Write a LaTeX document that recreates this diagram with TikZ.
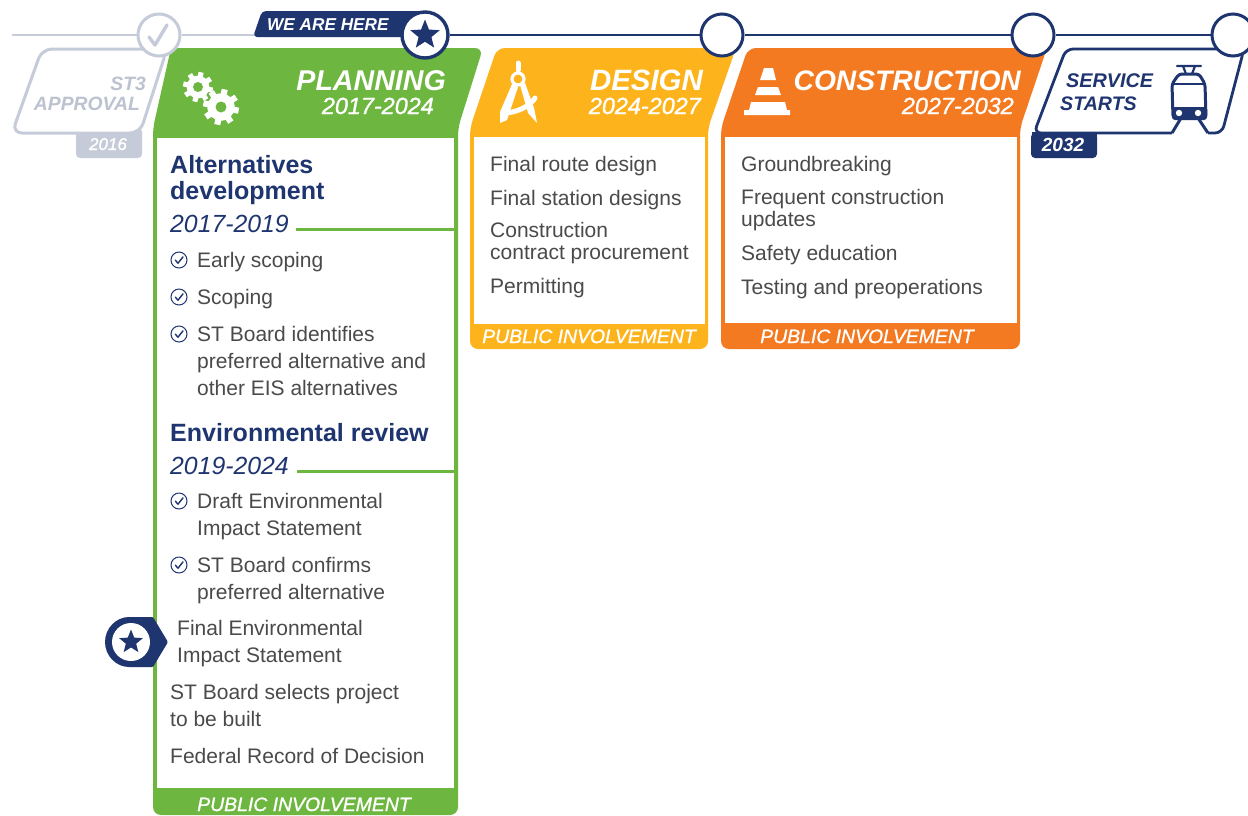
\documentclass[tikz,border=0pt]{standalone}
\usepackage{fontspec}
\setmainfont{Liberation Sans}
\newfontface\medit{Liberation Sans Italic}[FakeBold=1.2]
\usetikzlibrary{shapes.geometric}
\definecolor{navy}{HTML}{1F3570}
\definecolor{pale}{HTML}{C6CBD9}
\definecolor{palet}{HTML}{BDC2D0}
\definecolor{grn}{HTML}{6DB63F}
\definecolor{yel}{HTML}{FDB31B}
\definecolor{org}{HTML}{F47A22}
\definecolor{bodyc}{HTML}{4A4A4C}
\newcommand{\fs}[2]{\fontsize{#1}{#2}\selectfont}
\tikzset{
  tx/.style={anchor=north west,inner sep=0pt,align=left,execute at begin node={\rule{0pt}{16pt}}},
  body/.style={tx,text=bodyc,font=\fs{21}{27}},
  bodytight/.style={tx,text=bodyc,font=\fs{21}{22}},
  head/.style={tx,text=navy,font=\fs{25}{26}\bfseries},
  yrs/.style={tx,text=navy,font=\fs{24.8}{26}\itshape},
  ttl/.style={anchor=base east,inner sep=0pt,text=white,font=\fs{28.6}{30}\bfseries\itshape},
  sub/.style={anchor=base east,inner sep=0pt,text=white,font=\fs{23.4}{24}\medit},
  foot/.style={anchor=base,inner sep=0pt,text=white,font=\fs{19.4}{20}\medit},
  stn/.style={circle,draw=navy,fill=white,line width=3pt,minimum size=42pt,inner sep=0pt},
  gstn/.style={circle,draw=pale,fill=white,line width=3pt,minimum size=42pt,inner sep=0pt},
  st/.style={star,star points=5,star point ratio=2.3,fill=navy,inner sep=0pt},
  cku/.style={circle,draw=navy,fill=white,line width=1pt,minimum size=16pt,inner sep=0pt},
  pn/.style={line width=1.4pt,navy,line cap=round,line join=round},
  rule/.style={grn,line width=3pt},
}
\newcommand{\gear}[4]{% x y R hole
  \foreach \a in {0,45,...,315}{\draw[white,line width=#3*0.34pt] (#1,#2) -- ++(\a+12:#3);}
  \fill[white] (#1,#2) circle ({#3*0.76});
  \fill[grn] (#1,#2) circle (#4);
}
\newcommand{\cku}[3]{% name x y
  \node[cku] (#1) at (#2,#3) {};
  \draw[pn] ([shift={(-3.6,0.2)}]#1.center) -- ++(2.6,3) -- ++(5,-6.4);
}
\begin{document}
\begin{tikzpicture}[x=1pt,y=-1pt]
\useasboundingbox (0,0) rectangle (1248,815);
\fill[white] (0,0) rectangle (1248,815);
% ST3 card
\fill[pale,rounded corners=4] (76,128) rectangle (142,158);
\draw[pale,line width=3pt,fill=white,rounded corners=10] (12,133) -- (42,49) -- (167,49) -- (140,133) -- cycle;
% planning column
\fill[grn,rounded corners=8] (153,815) -- (153,128) -- (171,48) -- (483,48) -- (458,128) -- (458,815) -- cycle;
\fill[white] (157,138) rectangle (453.5,788);
\draw[rule] (296,229) -- (454,229);
\draw[rule] (297,471) -- (454,471);
% design column
\fill[yel,rounded corners=8] (470,349) -- (470,128) -- (497,48) -- (736,48) -- (708,128) -- (708,349) -- cycle;
\fill[white] (474,137) rectangle (705,324);
% construction column
\fill[org,rounded corners=8] (721,349) -- (721,128) -- (748,48) -- (1047,48) -- (1020,128) -- (1020,349) -- cycle;
\fill[white] (724.5,137) rectangle (1017,323);
% service card
\draw[navy,line width=2.8pt,line join=round,rounded corners=7] (1208,133) -- (1222,133) -- (1244,49) -- (1066,49) -- (1034,133) -- (1172,133);
\fill[navy,rounded corners=4] (1031,133) rectangle (1097,158);
\fill[navy] (1032,132) rectangle (1097,140);
% train
\draw[navy,line width=3pt,line join=round] (1172,133) -- (1181,118) (1198,118) -- (1208,133);
\draw[navy,line width=2.2pt,line cap=round] (1177,66) -- (1201,66) (1183,66) -- (1186,74) (1195,66) -- (1192,74);
\draw[navy,line width=3pt,fill=white,rounded corners=3] (1173,118) -- (1172,84) -- (1179,74) -- (1199,74) -- (1205,84) -- (1206,118) -- cycle;
\fill[navy,rounded corners=3] (1172,107) rectangle (1207,120);
\draw[navy,line width=2pt] (1173,84) -- (1205,84);
\fill[white] (1179,113) circle (3.2) (1198,113) circle (3.2);
% we are here tab
\fill[navy,rounded corners=4] (253,37) -- (262,11) -- (425,11) -- (425,37) -- cycle;
% timeline
\coordinate (gstart) at (12,35);
\coordinate (gend) at (254,35);
\coordinate (nend) at (1248,35);
\node[gstn] (s0) at (159,35) {};
\node[stn,minimum size=46pt,line width=3.4pt] (s1) at (425,35) {};
\node[st,minimum size=31pt] (s1star) at (425,35) {};
\node[stn] (s2) at (722,35) {};
\node[stn] (s3) at (1033,35) {};
\node[stn] (s4) at (1233,35) {};
\draw[pale,line width=2.6pt] (gstart) -- (s0) -- (gend);
\draw[navy,line width=2.6pt] (s1) -- (s2);
\draw[navy,line width=2.6pt] (s2) -- (s3);
\draw[navy,line width=2.6pt] (s3) -- (s4) -- (nend);
\draw[pale,line width=3.4pt,line cap=round,line join=round] (149,37) -- (155,45) -- (167,25);
% top labels
\node[anchor=base west,inner sep=0pt,text=white,font=\fs{17.2}{19}\bfseries\itshape] (here) at (267,30) {WE ARE HERE};
\node[anchor=base east,inner sep=0pt,text=palet,font=\fs{19.3}{20}\bfseries\itshape] (st3a) at (146,90) {ST3};
\node[anchor=base east,inner sep=0pt,text=palet,font=\fs{19.3}{20}\bfseries\itshape] (st3b) at (140,110) {APPROVAL};
\node[anchor=base,inner sep=0pt,text=white,font=\fs{17}{19}\medit] (y2016) at (108,150) {2016};
\node[anchor=base west,inner sep=0pt,text=navy,font=\fs{19.8}{20}\bfseries\itshape] (svc1) at (1066,87) {SERVICE};
\node[anchor=base west,inner sep=0pt,text=navy,font=\fs{19.6}{20}\bfseries\itshape] (svc2) at (1060,110) {STARTS};
\node[anchor=base,inner sep=0pt,text=white,font=\fs{19}{20}\bfseries\itshape] (y2032) at (1063,151) {2032};
% headers
\node[ttl] (t1) at (446,90) {PLANNING};
\node[sub] (u1) at (434,114) {2017-2024};
\node[ttl,font=\fs{29.4}{30}\bfseries\itshape] (t2) at (703,90) {DESIGN};
\node[sub] (u2) at (701,114) {2024-2027};
\node[ttl,font=\fs{28.2}{30}\bfseries\itshape] (t3) at (1021,90) {CONSTRUCTION};
\node[sub] (u3) at (1014,114) {2027-2032};
% gears
\gear{198}{87}{15}{5}
\gear{221}{107}{18}{5.5}
% compass
\draw[white,line width=5pt,line cap=round] (518,63) -- (518,70);
\draw[white,line width=3.2pt] (518,79) circle (6);
\fill[white] (512,84) -- (518,87) -- (507,120) -- (500,123) -- (500,112) -- cycle;
\fill[white] (520,85) -- (525,83) -- (534,108) -- (537,123) -- (528,113) -- cycle;
\draw[white,line width=5pt,line cap=round] (506,113) .. controls (518,112) and (530,106) .. (535,98);
% cone
\fill[white] (764,68) -- (773,68) -- (776,80) -- (760,80) -- cycle;
\fill[white] (758,87) -- (778,87) -- (781,95) -- (755,95) -- cycle;
\fill[white] (751,102) -- (785,102) -- (787,110) -- (790,110) -- (790,115) -- (744,115) -- (744,110) -- (749,110) -- cycle;
% planning text
\node[head] (h1) at (170,155) {Alternatives\\development};
\node[yrs] (d1) at (170,215) {2017-2019};
\cku{c1}{179}{260}
\node[body] (i1) at (197,251) {Early scoping};
\cku{c2}{179}{297}
\node[body] (i2) at (197,288) {Scoping};
\cku{c3}{179}{334}
\node[body] (i3) at (197,326) {ST Board identifies\\preferred alternative and\\other EIS alternatives};
\node[head] (h2) at (170,423) {Environmental review};
\node[yrs] (d2) at (170,457) {2019-2024};
\cku{c4}{179}{501}
\node[body] (i4) at (197,493) {Draft Environmental\\Impact Statement};
\cku{c5}{179}{565}
\node[body] (i5) at (197,557) {ST Board confirms\\preferred alternative};
\node[body] (i6) at (177,620) {Final Environmental\\Impact Statement};
\node[body] (i7) at (170,684) {ST Board selects project\\to be built};
\node[body] (i8) at (170,747) {Federal Record of Decision};
\node[foot] (f1) at (304,811) {PUBLIC INVOLVEMENT};
% badge
\fill[navy,rounded corners=1] (153,617) -- (130,617) arc (270:90:25) -- (153,667) -- (168,642) -- cycle;
\node[circle,fill=white,minimum size=38pt,inner sep=0pt] (bc) at (131,642) {};
\node[st,minimum size=25pt] (bs) at (131,642) {};
% design text
\node[bodytight] (a1) at (490,155) {Final route design};
\node[bodytight] (a2) at (490,189) {Final station designs};
\node[bodytight] (a3) at (490,222) {Construction\\contract procurement};
\node[bodytight] (a4) at (490,277) {Permitting};
\node[foot] (f2) at (589,343) {PUBLIC INVOLVEMENT};
% construction text
\node[bodytight] (b1) at (741,155) {Groundbreaking};
\node[bodytight] (b2) at (741,189) {Frequent construction\\updates};
\node[bodytight] (b3) at (741,244) {Safety education};
\node[bodytight] (b4) at (741,278) {Testing and preoperations};
\node[foot] (f3) at (867,343) {PUBLIC INVOLVEMENT};
\end{tikzpicture}
\end{document}
